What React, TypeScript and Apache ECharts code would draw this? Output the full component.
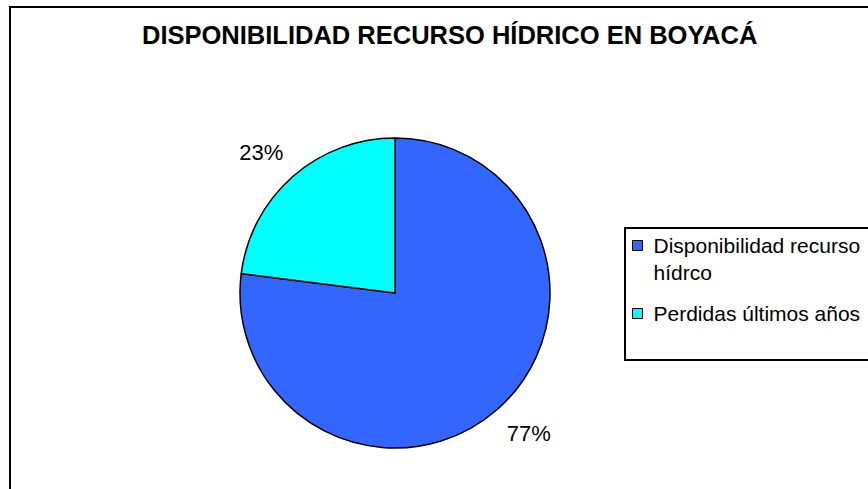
import React, { useEffect, useRef } from "react";
import * as echarts from "echarts";

const titleText = "DISPONIBILIDAD RECURSO HÍDRICO EN BOYACÁ";
const categories = ["Disponibilidad recurso hídrco", "Perdidas últimos años"];
const legendLabels = ["\u00a0\nDisponibilidad recurso\nhídrco", "Perdidas últimos años"];
const values = [77, 23];
const colors = ["#3366FF", "#00FFFF"];

const FONT = "'Liberation Sans', Arial, sans-serif";

export default function App() {
  const ref = useRef<HTMLDivElement>(null);
  useEffect(() => {
    if (!ref.current) return;
    const chart = echarts.init(ref.current, undefined, { renderer: "svg" });
    chart.setOption({
      animation: false,
      backgroundColor: "#ffffff",
      title: {
        text: titleText,
        left: 142,
        top: 22,
        padding: 0,
        textStyle: { fontFamily: FONT, fontSize: 25.5, fontWeight: "bold", color: "#000" },
      },
      graphic: [
        {
          type: "rect",
          silent: true,
          z: -1,
          shape: { x: 10, y: 7, width: 900, height: 540 },
          style: { fill: "none", stroke: "#000", lineWidth: 2 },
        },
        {
          type: "rect",
          silent: true,
          shape: { x: 625, y: 228, width: 300, height: 132 },
          style: { fill: "none", stroke: "#000", lineWidth: 2 },
        },
      ],
      legend: {
        orient: "vertical",
        left: 632,
        top: 205,
        padding: 0,
        itemWidth: 10,
        itemHeight: 10,
        itemGap: 14,
        icon: "rect",
        selectedMode: false,
        itemStyle: { borderColor: "#000", borderWidth: 1 },
        textStyle: {
          fontFamily: FONT,
          fontSize: 21,
          color: "#000",
          lineHeight: 27,
          padding: [0, 0, 0, 6],
        },
        data: categories.map((name) => ({ name })),
        formatter: (name: string) => legendLabels[categories.indexOf(name)] ?? name,
      },
      series: [
        {
          type: "pie",
          center: [395, 293],
          radius: 155,
          startAngle: 90,
          clockwise: true,
          avoidLabelOverlap: false,
          itemStyle: { borderColor: "#000", borderWidth: 1.5 },
          label: {
            show: true,
            position: "outside",
            formatter: "{d}%",
            fontFamily: FONT,
            fontSize: 22,
            color: "#000",
            distanceToLabelLine: -12,
            padding: [4, 0, 0, 0],
          },
          labelLine: { show: false, length: 32, length2: 0 },
          emphasis: { disabled: true },
          data: categories.map((name, i) => ({
            name,
            value: values[i],
            itemStyle: { color: colors[i] },
          })),
        },
      ],
    });
    return () => chart.dispose();
  }, []);
  return (
    <div
      ref={ref}
      style={{ position: "absolute", left: 0, top: 0, width: 868, height: 489 }}
    />
  );
}
